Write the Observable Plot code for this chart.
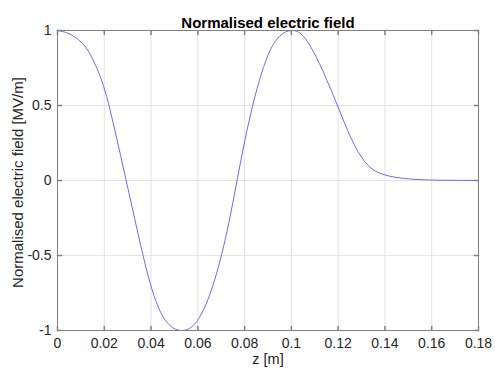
<!DOCTYPE html>
<html><head><meta charset="utf-8">
<script src="https://cdn.jsdelivr.net/npm/d3@7"></script>
<script src="https://cdn.jsdelivr.net/npm/@observablehq/plot@0.6"></script>
<style>body{margin:0;background:#fff}</style>
</head><body><div id="chart"></div><script>
const zPos = [0, 0.004, 0.008, 0.012, 0.015, 0.018, 0.021, 0.024, 0.027, 0.030, 0.033, 0.036, 0.039, 0.042, 0.045, 0.048, 0.0505, 0.0533, 0.056, 0.059, 0.062, 0.065, 0.068, 0.071, 0.074, 0.077, 0.080, 0.083, 0.086, 0.089, 0.092, 0.095, 0.0975, 0.1003, 0.103, 0.106, 0.109, 0.112, 0.115, 0.118, 0.121, 0.124, 0.127, 0.130, 0.133, 0.136, 0.139, 0.142, 0.146, 0.150, 0.155, 0.160, 0.170, 0.180];
const field = [1, 0.985, 0.95, 0.89, 0.81, 0.705, 0.56, 0.37, 0.165, -0.045, -0.255, -0.46, -0.65, -0.80, -0.905, -0.965, -0.992, -1, -0.99, -0.95, -0.875, -0.765, -0.62, -0.44, -0.225, 0.02, 0.26, 0.47, 0.65, 0.795, 0.90, 0.962, 0.99, 1, 0.99, 0.945, 0.87, 0.78, 0.675, 0.565, 0.45, 0.335, 0.235, 0.155, 0.097, 0.062, 0.042, 0.029, 0.018, 0.011, 0.006, 0.003, 0.001, 0];
const xTicks = [0, 0.02, 0.04, 0.06, 0.08, 0.1, 0.12, 0.14, 0.16, 0.18];
const yTicks = [-1, -0.5, 0, 0.5, 1];
const titleText = "Normalised electric field";
const xLabel = "z [m]";
const yLabel = "Normalised electric field [MV/m]";

const data = zPos.map((z, i) => ({z, e: field[i]}));
const tickShape = {draw(ctx, l) { ctx.moveTo(0, 0); ctx.lineTo(0, -l); }};
const textColor = "#262626";
const boxColor = "#808080";
const gridColor = "#e3e3e3";
const fmt = d => String(d);

const chart = Plot.plot({
  width: 495, height: 372,
  marginLeft: 57, marginRight: 17, marginTop: 30, marginBottom: 42,
  style: {fontFamily: "'Liberation Sans', Arial, sans-serif", fontSize: "14px", background: "#fff", color: textColor},
  x: {domain: [0, 0.18]},
  y: {domain: [-1, 1]},
  marks: [
    Plot.gridX(xTicks, {stroke: gridColor, strokeOpacity: 1}),
    Plot.gridY(yTicks, {stroke: gridColor, strokeOpacity: 1}),
    Plot.line(data, {x: "z", y: "e", stroke: "#6a6aff", strokeWidth: 1, curve: "catmull-rom"}),
    Plot.frame({stroke: boxColor}),
    Plot.vector(xTicks, {x: d => d, frameAnchor: "bottom", length: 4, rotate: 0, anchor: "start", shape: tickShape, stroke: boxColor}),
    Plot.vector(xTicks, {x: d => d, frameAnchor: "top", length: 4, rotate: 180, anchor: "start", shape: tickShape, stroke: boxColor}),
    Plot.vector(yTicks, {y: d => d, frameAnchor: "left", length: 4, rotate: 90, anchor: "start", shape: tickShape, stroke: boxColor}),
    Plot.vector(yTicks, {y: d => d, frameAnchor: "right", length: 4, rotate: -90, anchor: "start", shape: tickShape, stroke: boxColor}),
    Plot.axisX(xTicks, {tickSize: 0, tickPadding: 8, tickFormat: fmt, fontSize: 14, fill: textColor, label: null}),
    Plot.axisY(yTicks, {tickSize: 0, tickPadding: 6, tickFormat: fmt, fontSize: 14, fill: textColor, label: null}),
    Plot.text([titleText], {text: d => d, frameAnchor: "top", dy: -13, fontWeight: "bold", fontSize: 15, fill: "#000"}),
    Plot.text([xLabel], {text: d => d, frameAnchor: "bottom", dy: 33, fontSize: 14.5, fill: textColor}),
    Plot.text([yLabel], {text: d => d, frameAnchor: "left", textAnchor: "middle", dx: -39, dy: 2, rotate: -90, fontSize: 15, fill: textColor})
  ]
});
document.getElementById("chart").append(chart);
</script></body></html>
